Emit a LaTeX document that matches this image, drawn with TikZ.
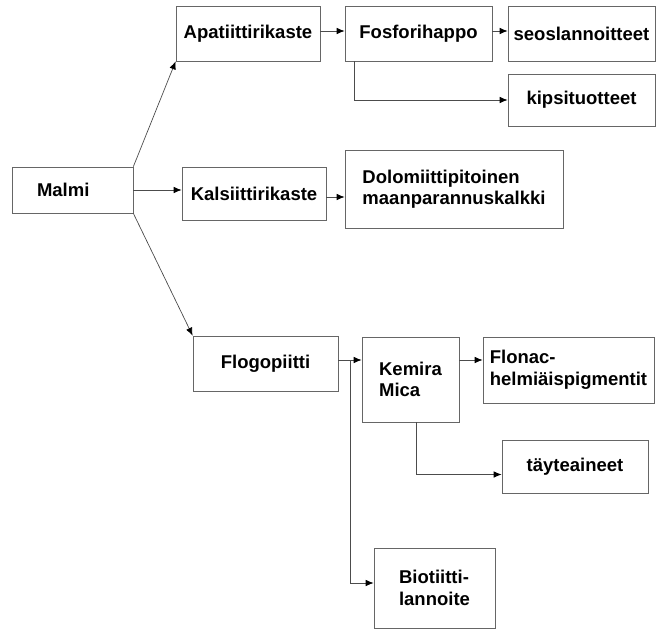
\documentclass[tikz,border=0pt]{standalone}
\usepackage{fontspec}
\setmainfont{Liberation Sans}
\usepackage{tikz}
\usetikzlibrary{arrows.meta,positioning}

\begin{document}
\begin{tikzpicture}[x=1pt,y=-1pt,
    laatikko/.style={draw=black!60,line width=0.7pt,inner sep=0pt,
        font=\fontsize{18.5}{21.5}\selectfont\bfseries},
    nuoli/.style={draw=black!70,line width=0.7pt,-{Latex[length=8pt,width=6.5pt,black]}}]
    \useasboundingbox (0,0) rectangle (658,632);

    \node[laatikko,minimum width=121pt,minimum height=46pt,text width=71pt,align=left] (malmi) at (72.5,190) {Malmi};
    \node[laatikko,minimum width=144pt,minimum height=55pt,align=center] (apat) at (248,33.5) {Apatiittirikaste};
    \node[laatikko,minimum width=147pt,minimum height=55pt,align=center] (fosfori) at (418.5,33.5) {Fosforihappo};
    \node[laatikko,minimum width=147pt,minimum height=55pt,align=center] (seos) at (581.5,33.5) {seoslannoitteet};
    \node[laatikko,minimum width=147pt,minimum height=52pt,align=center] (kipsi) at (581.5,100) {kipsituotteet};
    \node[laatikko,minimum width=144pt,minimum height=53pt,align=center] (kalsi) at (254,193.5) {Kalsiittirikaste};
    \node[laatikko,minimum width=218pt,minimum height=78pt,align=left] (dolo) at (454,189) {Dolomiittipitoinen\\maanparannuskalkki};
    \node[laatikko,minimum width=145pt,minimum height=55pt,align=center] (flogo) at (265.5,363.5) {Flogopiitti};
    \node[laatikko,minimum width=97pt,minimum height=85pt,align=left] (kemira) at (410.5,379.5) {Kemira\\Mica};
    \node[laatikko,minimum width=171pt,minimum height=66pt,align=left] (flonac) at (568.5,370) {Flonac-\\helmiäispigmentit};
    \node[laatikko,minimum width=146pt,minimum height=53pt,align=center] (tayte) at (575,466.5) {täyteaineet};
    \node[laatikko,minimum width=121pt,minimum height=80pt,align=left] (bio) at (434.5,588) {Biotiitti-\\lannoite};

    \coordinate (haara) at (350,360);

    \draw[nuoli] (malmi.north east) -- (apat.south west);
    \draw[nuoli] (malmi.east) -- (malmi.east -| kalsi.west);
    \draw[nuoli] (malmi.south east) -- (flogo.north west);
    \draw[nuoli] (apat.east |- 0,31) -- (fosfori.west |- 0,31);
    \draw[nuoli] (fosfori.east |- 0,31) -- (seos.west |- 0,31);
    \draw[nuoli] ([xshift=10pt]fosfori.south west) |- (kipsi.west);
    \draw[nuoli] (kalsi.east |- 0,197) -- (dolo.west |- 0,197);
    \draw[nuoli] (flogo.east |- haara) -- (kemira.west |- haara);
    \draw[nuoli] (haara) |- ([yshift=5pt]bio.west);
    \draw[nuoli] (kemira.east |- haara) -- (flonac.west |- haara);
    \draw[nuoli] ([xshift=6pt]kemira.south) |- ([yshift=-8pt]tayte.west);
\end{tikzpicture}
\end{document}
